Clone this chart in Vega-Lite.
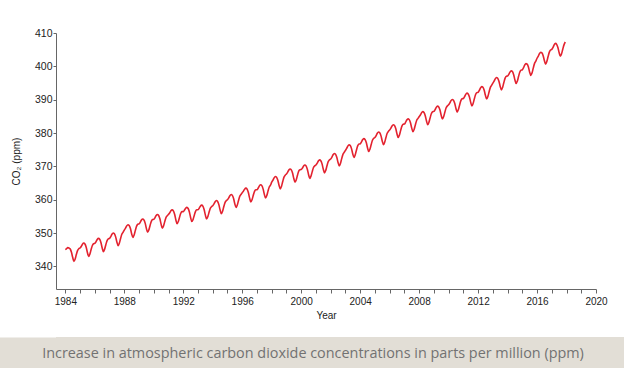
{
"$schema": "https://vega.github.io/schema/vega-lite/v6.json",
"background": "white",
"padding": {"left": 0, "top": 28, "right": 0, "bottom": 0},
"spacing": 17,
"config": {"view": {"stroke": null}, "font": "Liberation Sans"},
"vconcat": [
{
"width": 540, "height": 256,
"data": {"values": [
{"d":"1984-01","v":345.0},{"d":"1984-02","v":345.3},{"d":"1984-03","v":345.6},{"d":"1984-04","v":345.5},{"d":"1984-05","v":345.2},{"d":"1984-06","v":344.2},{"d":"1984-07","v":342.7},{"d":"1984-08","v":341.5},{"d":"1984-09","v":342.2},{"d":"1984-10","v":343.6},{"d":"1984-11","v":344.8},{"d":"1984-12","v":345.3},
{"d":"1985-01","v":345.50},{"d":"1985-02","v":346.03},{"d":"1985-03","v":346.65},{"d":"1985-04","v":346.98},{"d":"1985-05","v":346.70},{"d":"1985-06","v":345.73},{"d":"1985-07","v":344.15},{"d":"1985-08","v":342.98},{"d":"1985-09","v":343.70},{"d":"1985-10","v":345.03},{"d":"1985-11","v":346.25},{"d":"1985-12","v":346.78},
{"d":"1986-01","v":346.89},{"d":"1986-02","v":347.42},{"d":"1986-03","v":348.05},{"d":"1986-04","v":348.39},{"d":"1986-05","v":348.12},{"d":"1986-06","v":347.15},{"d":"1986-07","v":345.59},{"d":"1986-08","v":344.42},{"d":"1986-09","v":345.15},{"d":"1986-10","v":346.49},{"d":"1986-11","v":347.72},{"d":"1986-12","v":348.25},
{"d":"1987-01","v":348.37},{"d":"1987-02","v":348.94},{"d":"1987-03","v":349.62},{"d":"1987-04","v":349.99},{"d":"1987-05","v":349.77},{"d":"1987-06","v":348.84},{"d":"1987-07","v":347.32},{"d":"1987-08","v":346.19},{"d":"1987-09","v":346.97},{"d":"1987-10","v":348.34},{"d":"1987-11","v":349.62},{"d":"1987-12","v":350.19},
{"d":"1988-01","v":350.89},{"d":"1988-02","v":351.46},{"d":"1988-03","v":352.13},{"d":"1988-04","v":352.49},{"d":"1988-05","v":352.26},{"d":"1988-06","v":351.33},{"d":"1988-07","v":349.79},{"d":"1988-08","v":348.66},{"d":"1988-09","v":349.43},{"d":"1988-10","v":350.79},{"d":"1988-11","v":352.06},{"d":"1988-12","v":352.63},
{"d":"1989-01","v":352.74},{"d":"1989-02","v":353.27},{"d":"1989-03","v":353.89},{"d":"1989-04","v":354.22},{"d":"1989-05","v":353.94},{"d":"1989-06","v":352.97},{"d":"1989-07","v":351.39},{"d":"1989-08","v":350.22},{"d":"1989-09","v":350.94},{"d":"1989-10","v":352.27},{"d":"1989-11","v":353.49},{"d":"1989-12","v":354.02},
{"d":"1990-01","v":354.10},{"d":"1990-02","v":354.61},{"d":"1990-03","v":355.22},{"d":"1990-04","v":355.53},{"d":"1990-05","v":355.24},{"d":"1990-06","v":354.25},{"d":"1990-07","v":352.65},{"d":"1990-08","v":351.46},{"d":"1990-09","v":352.17},{"d":"1990-10","v":353.48},{"d":"1990-11","v":354.69},{"d":"1990-12","v":355.20},
{"d":"1991-01","v":355.58},{"d":"1991-02","v":356.06},{"d":"1991-03","v":356.65},{"d":"1991-04","v":356.93},{"d":"1991-05","v":356.61},{"d":"1991-06","v":355.60},{"d":"1991-07","v":353.98},{"d":"1991-08","v":352.77},{"d":"1991-09","v":353.45},{"d":"1991-10","v":354.73},{"d":"1991-11","v":355.92},{"d":"1991-12","v":356.40},
{"d":"1992-01","v":356.42},{"d":"1992-02","v":356.88},{"d":"1992-03","v":357.44},{"d":"1992-04","v":357.69},{"d":"1992-05","v":357.35},{"d":"1992-06","v":356.31},{"d":"1992-07","v":354.67},{"d":"1992-08","v":353.43},{"d":"1992-09","v":354.09},{"d":"1992-10","v":355.34},{"d":"1992-11","v":356.50},{"d":"1992-12","v":356.96},
{"d":"1993-01","v":356.98},{"d":"1993-02","v":357.47},{"d":"1993-03","v":358.06},{"d":"1993-04","v":358.35},{"d":"1993-05","v":358.04},{"d":"1993-06","v":357.03},{"d":"1993-07","v":355.43},{"d":"1993-08","v":354.22},{"d":"1993-09","v":354.91},{"d":"1993-10","v":356.20},{"d":"1993-11","v":357.39},{"d":"1993-12","v":357.88},
{"d":"1994-01","v":358.20},{"d":"1994-02","v":358.74},{"d":"1994-03","v":359.38},{"d":"1994-04","v":359.73},{"d":"1994-05","v":359.47},{"d":"1994-06","v":358.51},{"d":"1994-07","v":356.95},{"d":"1994-08","v":355.79},{"d":"1994-09","v":356.53},{"d":"1994-10","v":357.88},{"d":"1994-11","v":359.12},{"d":"1994-12","v":359.66},
{"d":"1995-01","v":360.00},{"d":"1995-02","v":360.54},{"d":"1995-03","v":361.19},{"d":"1995-04","v":361.55},{"d":"1995-05","v":361.29},{"d":"1995-06","v":360.34},{"d":"1995-07","v":358.80},{"d":"1995-08","v":357.65},{"d":"1995-09","v":358.39},{"d":"1995-10","v":359.75},{"d":"1995-11","v":361.00},{"d":"1995-12","v":361.54},
{"d":"1996-01","v":362.08},{"d":"1996-02","v":362.57},{"d":"1996-03","v":363.16},{"d":"1996-04","v":363.45},{"d":"1996-05","v":363.14},{"d":"1996-06","v":362.13},{"d":"1996-07","v":360.53},{"d":"1996-08","v":359.32},{"d":"1996-09","v":360.01},{"d":"1996-10","v":361.30},{"d":"1996-11","v":362.49},{"d":"1996-12","v":362.98},
{"d":"1997-01","v":362.97},{"d":"1997-02","v":363.50},{"d":"1997-03","v":364.13},{"d":"1997-04","v":364.47},{"d":"1997-05","v":364.20},{"d":"1997-06","v":363.23},{"d":"1997-07","v":361.67},{"d":"1997-08","v":360.50},{"d":"1997-09","v":361.23},{"d":"1997-10","v":362.57},{"d":"1997-11","v":363.80},{"d":"1997-12","v":364.33},
{"d":"1998-01","v":365.25},{"d":"1998-02","v":365.85},{"d":"1998-03","v":366.55},{"d":"1998-04","v":366.95},{"d":"1998-05","v":366.75},{"d":"1998-06","v":365.85},{"d":"1998-07","v":364.35},{"d":"1998-08","v":363.25},{"d":"1998-09","v":364.05},{"d":"1998-10","v":365.45},{"d":"1998-11","v":366.75},{"d":"1998-12","v":367.35},
{"d":"1999-01","v":367.72},{"d":"1999-02","v":368.25},{"d":"1999-03","v":368.88},{"d":"1999-04","v":369.22},{"d":"1999-05","v":368.95},{"d":"1999-06","v":367.98},{"d":"1999-07","v":366.42},{"d":"1999-08","v":365.25},{"d":"1999-09","v":365.98},{"d":"1999-10","v":367.32},{"d":"1999-11","v":368.55},{"d":"1999-12","v":369.00},
{"d":"2000-01","v":369.05},{"d":"2000-02","v":369.48},{"d":"2000-03","v":370.10},{"d":"2000-04","v":370.42},{"d":"2000-05","v":370.13},{"d":"2000-06","v":369.15},{"d":"2000-07","v":367.57},{"d":"2000-08","v":366.39},{"d":"2000-09","v":367.10},{"d":"2000-10","v":368.42},{"d":"2000-11","v":369.64},{"d":"2000-12","v":370.15},
{"d":"2001-01","v":370.40},{"d":"2001-02","v":370.94},{"d":"2001-03","v":371.59},{"d":"2001-04","v":371.95},{"d":"2001-05","v":371.69},{"d":"2001-06","v":370.74},{"d":"2001-07","v":369.20},{"d":"2001-08","v":368.05},{"d":"2001-09","v":368.79},{"d":"2001-10","v":370.15},{"d":"2001-11","v":371.40},{"d":"2001-12","v":371.94},
{"d":"2002-01","v":372.19},{"d":"2002-02","v":372.78},{"d":"2002-03","v":373.47},{"d":"2002-04","v":373.86},{"d":"2002-05","v":373.65},{"d":"2002-06","v":372.74},{"d":"2002-07","v":371.24},{"d":"2002-08","v":370.13},{"d":"2002-09","v":370.92},{"d":"2002-10","v":372.31},{"d":"2002-11","v":373.60},{"d":"2002-12","v":374.19},
{"d":"2003-01","v":374.79},{"d":"2003-02","v":375.37},{"d":"2003-03","v":376.06},{"d":"2003-04","v":376.44},{"d":"2003-05","v":376.22},{"d":"2003-06","v":375.31},{"d":"2003-07","v":373.79},{"d":"2003-08","v":372.68},{"d":"2003-09","v":373.46},{"d":"2003-10","v":374.84},{"d":"2003-11","v":376.13},{"d":"2003-12","v":376.71},
{"d":"2004-01","v":376.73},{"d":"2004-02","v":377.29},{"d":"2004-03","v":377.95},{"d":"2004-04","v":378.30},{"d":"2004-05","v":378.06},{"d":"2004-06","v":377.12},{"d":"2004-07","v":375.58},{"d":"2004-08","v":374.44},{"d":"2004-09","v":375.20},{"d":"2004-10","v":376.55},{"d":"2004-11","v":377.81},{"d":"2004-12","v":378.37},
{"d":"2005-01","v":378.67},{"d":"2005-02","v":379.24},{"d":"2005-03","v":379.92},{"d":"2005-04","v":380.29},{"d":"2005-05","v":380.07},{"d":"2005-06","v":379.14},{"d":"2005-07","v":377.62},{"d":"2005-08","v":376.49},{"d":"2005-09","v":377.27},{"d":"2005-10","v":378.64},{"d":"2005-11","v":379.92},{"d":"2005-12","v":380.49},
{"d":"2006-01","v":380.88},{"d":"2006-02","v":381.45},{"d":"2006-03","v":382.12},{"d":"2006-04","v":382.48},{"d":"2006-05","v":382.25},{"d":"2006-06","v":381.32},{"d":"2006-07","v":379.78},{"d":"2006-08","v":378.65},{"d":"2006-09","v":379.42},{"d":"2006-10","v":380.78},{"d":"2006-11","v":382.05},{"d":"2006-12","v":382.62},
{"d":"2007-01","v":382.68},{"d":"2007-02","v":383.24},{"d":"2007-03","v":383.90},{"d":"2007-04","v":384.25},{"d":"2007-05","v":384.01},{"d":"2007-06","v":383.07},{"d":"2007-07","v":381.53},{"d":"2007-08","v":380.39},{"d":"2007-09","v":381.15},{"d":"2007-10","v":382.50},{"d":"2007-11","v":383.76},{"d":"2007-12","v":384.32},
{"d":"2008-01","v":384.85},{"d":"2008-02","v":385.39},{"d":"2008-03","v":386.04},{"d":"2008-04","v":386.40},{"d":"2008-05","v":386.14},{"d":"2008-06","v":385.19},{"d":"2008-07","v":383.65},{"d":"2008-08","v":382.50},{"d":"2008-09","v":383.24},{"d":"2008-10","v":384.60},{"d":"2008-11","v":385.85},{"d":"2008-12","v":386.39},
{"d":"2009-01","v":386.48},{"d":"2009-02","v":387.04},{"d":"2009-03","v":387.70},{"d":"2009-04","v":388.05},{"d":"2009-05","v":387.81},{"d":"2009-06","v":386.87},{"d":"2009-07","v":385.33},{"d":"2009-08","v":384.19},{"d":"2009-09","v":384.95},{"d":"2009-10","v":386.30},{"d":"2009-11","v":387.56},{"d":"2009-12","v":388.12},
{"d":"2010-01","v":388.45},{"d":"2010-02","v":389.02},{"d":"2010-03","v":389.70},{"d":"2010-04","v":390.07},{"d":"2010-05","v":389.85},{"d":"2010-06","v":388.92},{"d":"2010-07","v":387.40},{"d":"2010-08","v":386.27},{"d":"2010-09","v":387.05},{"d":"2010-10","v":388.42},{"d":"2010-11","v":389.70},{"d":"2010-12","v":390.27},
{"d":"2011-01","v":390.36},{"d":"2011-02","v":390.93},{"d":"2011-03","v":391.60},{"d":"2011-04","v":391.96},{"d":"2011-05","v":391.73},{"d":"2011-06","v":390.80},{"d":"2011-07","v":389.26},{"d":"2011-08","v":388.13},{"d":"2011-09","v":388.90},{"d":"2011-10","v":390.26},{"d":"2011-11","v":391.53},{"d":"2011-12","v":392.10},
{"d":"2012-01","v":392.20},{"d":"2012-02","v":392.80},{"d":"2012-03","v":393.50},{"d":"2012-04","v":393.90},{"d":"2012-05","v":393.70},{"d":"2012-06","v":392.80},{"d":"2012-07","v":391.30},{"d":"2012-08","v":390.20},{"d":"2012-09","v":391.00},{"d":"2012-10","v":392.40},{"d":"2012-11","v":393.70},{"d":"2012-12","v":394.30},
{"d":"2013-01","v":394.95},{"d":"2013-02","v":395.55},{"d":"2013-03","v":396.25},{"d":"2013-04","v":396.65},{"d":"2013-05","v":396.45},{"d":"2013-06","v":395.55},{"d":"2013-07","v":394.05},{"d":"2013-08","v":392.95},{"d":"2013-09","v":393.75},{"d":"2013-10","v":395.15},{"d":"2013-11","v":396.45},{"d":"2013-12","v":397.05},
{"d":"2014-01","v":397.10},{"d":"2014-02","v":397.60},{"d":"2014-03","v":398.28},{"d":"2014-04","v":398.65},{"d":"2014-05","v":398.43},{"d":"2014-06","v":397.50},{"d":"2014-07","v":395.98},{"d":"2014-08","v":394.85},{"d":"2014-09","v":395.63},{"d":"2014-10","v":397.00},{"d":"2014-11","v":398.28},{"d":"2014-12","v":398.85},
{"d":"2015-01","v":398.97},{"d":"2015-02","v":399.61},{"d":"2015-03","v":400.35},{"d":"2015-04","v":400.80},{"d":"2015-05","v":400.64},{"d":"2015-06","v":399.78},{"d":"2015-07","v":398.32},{"d":"2015-08","v":397.26},{"d":"2015-09","v":398.10},{"d":"2015-10","v":399.55},{"d":"2015-11","v":400.89},{"d":"2015-12","v":401.53},
{"d":"2016-01","v":402.43},{"d":"2016-02","v":403.06},{"d":"2016-03","v":403.79},{"d":"2016-04","v":404.23},{"d":"2016-05","v":404.06},{"d":"2016-06","v":403.19},{"d":"2016-07","v":401.73},{"d":"2016-08","v":400.66},{"d":"2016-09","v":401.49},{"d":"2016-10","v":402.93},{"d":"2016-11","v":404.26},{"d":"2016-12","v":404.89},
{"d":"2017-01","v":405.10},{"d":"2017-02","v":405.69},{"d":"2017-03","v":406.45},{"d":"2017-04","v":406.90},{"d":"2017-05","v":406.60},{"d":"2017-06","v":405.65},{"d":"2017-07","v":404.15},{"d":"2017-08","v":403.04},{"d":"2017-09","v":403.83},{"d":"2017-10","v":405.22},{"d":"2017-11","v":406.51},{"d":"2017-12","v":407.30}
]},
"mark": {"type": "line", "color": "#e3222f", "strokeWidth": 1.6, "clip": true, "interpolate": "monotone"},
"encoding": {
"x": {"field": "d", "type": "temporal",
 "scale": {"type": "utc", "domain": [{"year": 1983, "month": 5, "date": 15, "utc": true}, {"year": 2020, "month": 1, "date": 1, "utc": true}], "nice": false},
 "axis": {"title": "Year", "titleFontSize": 10, "titleFontWeight": "normal", "titleColor": "#222", "titlePadding": 4,
  "tickCount": {"interval": "year", "step": 1},
  "labelExpr": "utcyear(datum.value) % 4 === 0 ? utcFormat(datum.value, '%Y') : ''",
  "labelFlush": false, "labelOverlap": false, "labelFontSize": 10, "labelColor": "#222", "labelPadding": 3,
  "tickSize": 4, "tickColor": "#666", "domainColor": "#666", "grid": false}},
"y": {"field": "v", "type": "quantitative",
 "scale": {"domain": [333.2, 410], "nice": false, "zero": false},
 "axis": {"title": [" ", "CO₂ (ppm)"], "titleLineHeight": 11, "titleFontSize": 10, "titleFontWeight": "normal", "titleColor": "#222", "titlePadding": 13,
  "values": [340, 350, 360, 370, 380, 390, 400, 410],
  "labelFontSize": 10.5, "labelColor": "#222", "labelPadding": 1,
  "tickSize": 3, "tickColor": "#666", "domainColor": "#666", "grid": false}}
}
},
{
"width": 568, "height": 31,
"view": {"fill": "#e2ded6", "stroke": null},
"data": {"values": [{"caption": "Increase in atmospheric carbon dioxide concentrations in parts per million (ppm)"}]},
"mark": {"type": "text", "font": "Open Sans", "fontSize": 14.4, "color": "#727272", "baseline": "middle", "dx": -27, "dy": 1},
"encoding": {
 "text": {"field": "caption"},
 "y": {"datum": 0, "type": "quantitative", "scale": {"domain": [-1, 1]},
  "axis": {"title": null, "labels": false, "ticks": false, "grid": false, "domainColor": "#e2ded6", "domainWidth": 57, "offset": 28.5}}
}
}
]
}
